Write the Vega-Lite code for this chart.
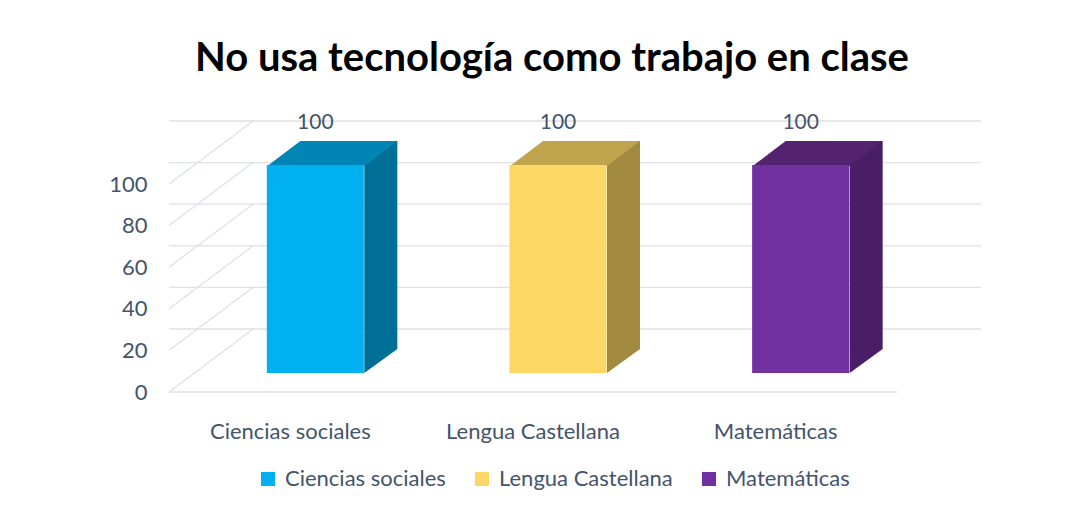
{
  "$schema": "https://vega.github.io/schema/vega-lite/v6.json",
  "width": 728,
  "height": 208,
  "autosize": "none",
  "padding": {"left": 169, "top": 184, "right": 194, "bottom": 121},
  "background": "white",
  "config": {
    "view": {"stroke": null},
    "font": "Lato",
    "axis": {"labelFont": "Lato", "labelColor": "#44546A", "labelFontSize": 22, "ticks": false, "domain": false, "grid": false, "title": null},
    "legend": {"labelFont": "Lato", "labelColor": "#44546A", "labelFontSize": 22, "labelLimit": 0}
  },
  "title": {
    "text": "No usa tecnología como trabajo en clase",
    "font": "Lato",
    "fontSize": 40,
    "fontWeight": "bold",
    "color": "black",
    "anchor": "middle",
    "dx": 19,
    "offset": 33
  },
  "datasets": {
    "bars": [
      {"asignatura": "Ciencias sociales", "valor": 100},
      {"asignatura": "Lengua Castellana", "valor": 100},
      {"asignatura": "Matemáticas", "valor": 100}
    ],
    "grid": [{"v": 0}, {"v": 20}, {"v": 40}, {"v": 60}, {"v": 80}, {"v": 100}]
  },
  "resolve": {"scale": {"color": "independent"}},
  "layer": [
    {
      "data": {"name": "grid"},
      "mark": {"type": "rule", "color": "#DEE1E6", "strokeWidth": 1.3, "xOffset": 84, "x2Offset": 84, "yOffset": -63},
      "encoding": {
        "y": {"field": "v", "type": "quantitative", "title": null, "scale": {"domain": [0, 100], "nice": false},
          "axis": {"values": [0, 20, 40, 60, 80, 100], "labelPadding": 22}}
      }
    },
    {
      "data": {"name": "grid"},
      "mark": {"type": "rule", "color": "#DEE1E6", "strokeWidth": 1.3, "x2Offset": 84, "y2Offset": -63},
      "encoding": {
        "x": {"datum": "Ciencias sociales", "type": "nominal", "bandPosition": 0, "title": null,
          "axis": {"labelAngle": 0, "labelAlign": "center", "bandPosition": 0.5, "labelPadding": 29}},
        "x2": {"datum": "Ciencias sociales", "bandPosition": 0},
        "y": {"field": "v", "type": "quantitative", "title": null,
          "axis": {"values": [0, 20, 40, 60, 80, 100], "labelPadding": 22}},
        "y2": {"field": "v"}
      }
    },
    {
      "data": {"name": "grid"},
      "transform": [{"filter": "datum.v == 0"}],
      "mark": {"type": "rule", "color": "#DEE1E6", "strokeWidth": 1.3},
      "encoding": {
        "y": {"field": "v", "type": "quantitative", "title": null,
          "axis": {"values": [0, 20, 40, 60, 80, 100], "labelPadding": 22}}
      }
    },
    {
      "data": {"name": "bars"},
      "mark": {"type": "bar", "width": 33, "xOffset": 90.5, "yOffset": -43, "y2Offset": -43},
      "encoding": {
        "x": {"field": "asignatura", "type": "nominal", "sort": null, "title": null,
          "axis": {"labelAngle": 0, "labelAlign": "center", "bandPosition": 0.5, "labelPadding": 29}},
        "y": {"field": "valor", "type": "quantitative", "title": null,
          "axis": {"values": [0, 20, 40, 60, 80, 100], "labelPadding": 22}},
        "y2": {"datum": 0},
        "color": {"field": "asignatura", "type": "nominal", "sort": null, "legend": null,
          "scale": {"domain": ["Ciencias sociales", "Lengua Castellana", "Matemáticas"], "range": ["#006F98", "#A38A41", "#4A1E66"]}}
      }
    },
    {
      "data": {"name": "bars"},
      "mark": {"type": "point", "filled": true, "opacity": 1, "strokeWidth": 0, "size": 1089, "shape": "M-1,-0.727L-1,0.727L1,-0.727Z", "xOffset": 90.5, "yOffset": -31},
      "encoding": {
        "x": {"field": "asignatura", "type": "nominal", "sort": null, "title": null,
          "axis": {"labelAngle": 0, "labelAlign": "center", "bandPosition": 0.5, "labelPadding": 29}},
        "y": {"datum": 0, "type": "quantitative", "title": null,
          "axis": {"values": [0, 20, 40, 60, 80, 100], "labelPadding": 22}},
        "color": {"field": "asignatura", "type": "nominal", "sort": null, "legend": null,
          "scale": {"domain": ["Ciencias sociales", "Lengua Castellana", "Matemáticas"], "range": ["#006F98", "#A38A41", "#4A1E66"]}}
      }
    },
    {
      "data": {"name": "bars"},
      "mark": {"type": "point", "filled": true, "opacity": 1, "strokeWidth": 0, "size": 16900, "shape": "M-1,0.1923L0.4923,0.1923L1,-0.1923L-0.4923,-0.1923Z", "xOffset": 42, "yOffset": -30.5},
      "encoding": {
        "x": {"field": "asignatura", "type": "nominal", "sort": null, "title": null,
          "axis": {"labelAngle": 0, "labelAlign": "center", "bandPosition": 0.5, "labelPadding": 29}},
        "y": {"field": "valor", "type": "quantitative", "title": null,
          "axis": {"values": [0, 20, 40, 60, 80, 100], "labelPadding": 22}},
        "color": {"field": "asignatura", "type": "nominal", "sort": null, "legend": null,
          "scale": {"domain": ["Ciencias sociales", "Lengua Castellana", "Matemáticas"], "range": ["#0085B4", "#C1A44E", "#54236F"]}}
      }
    },
    {
      "data": {"name": "bars"},
      "mark": {"type": "bar", "width": {"band": 0.4}, "xOffset": 25, "yOffset": -19, "y2Offset": -19},
      "encoding": {
        "x": {"field": "asignatura", "type": "nominal", "sort": null, "title": null,
          "scale": {"paddingInner": 0, "paddingOuter": 0},
          "axis": {"labelAngle": 0, "labelAlign": "center", "bandPosition": 0.5, "labelPadding": 29}},
        "y": {"field": "valor", "type": "quantitative", "title": null,
          "axis": {"values": [0, 20, 40, 60, 80, 100], "labelPadding": 22}},
        "y2": {"datum": 0},
        "color": {"field": "asignatura", "type": "nominal", "sort": null, "title": null,
          "scale": {"domain": ["Ciencias sociales", "Lengua Castellana", "Matemáticas"], "range": ["#00B0F0", "#FDD766", "#7030A0"]},
          "legend": {"orient": "none", "direction": "horizontal", "legendX": 88, "legendY": 284,
            "symbolType": "square", "symbolSize": 196, "symbolStrokeWidth": 0, "symbolOpacity": 1, "labelOffset": 6, "columnPadding": 25}}
      }
    },
    {
      "data": {"name": "bars"},
      "mark": {"type": "text", "fontSize": 21, "color": "#44546A", "xOffset": 25, "yOffset": -61, "font": "Lato"},
      "encoding": {
        "x": {"field": "asignatura", "type": "nominal", "sort": null, "title": null,
          "axis": {"labelAngle": 0, "labelAlign": "center", "bandPosition": 0.5, "labelPadding": 29}},
        "y": {"field": "valor", "type": "quantitative", "title": null,
          "axis": {"values": [0, 20, 40, 60, 80, 100], "labelPadding": 22}},
        "text": {"field": "valor", "type": "quantitative"}
      }
    }
  ]
}
